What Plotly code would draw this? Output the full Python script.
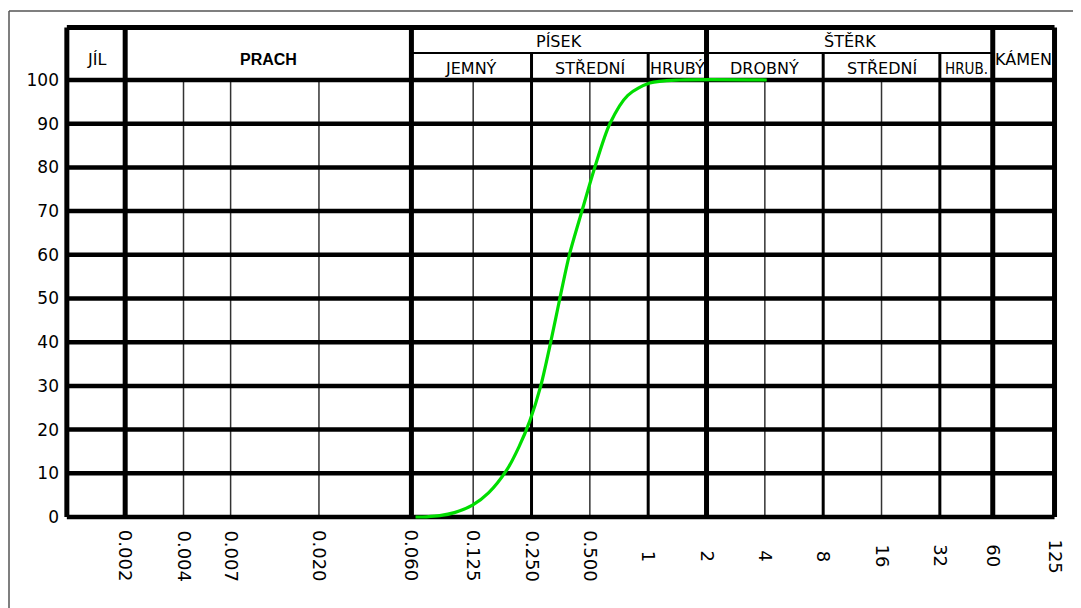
import numpy as np
import plotly.graph_objects as go

# ---------------- data ----------------
grain_size_mm = [0.063, 0.072, 0.084, 0.100, 0.124, 0.150, 0.186, 0.215, 0.245, 0.279,
                 0.314, 0.350, 0.392, 0.455, 0.530, 0.634, 0.785, 1.02, 1.46, 4.09]
passing_pct = [0, 0.05, 0.3, 1.0, 2.7, 5.5, 10.7, 16.0, 22, 30,
               40, 50, 60, 70, 80, 90, 96.5, 99.3, 100, 100]

x_tick_vals = [0.002, 0.004, 0.007, 0.020, 0.060, 0.125, 0.250, 0.500,
               1, 2, 4, 8, 16, 32, 60, 125]
x_tick_text = ["0.002", "0.004", "0.007", "0.020", "0.060", "0.125", "0.250", "0.500",
               "1", "2", "4", "8", "16", "32", "60", "125"]
pct_ticks = [0, 10, 20, 30, 40, 50, 60, 70, 80, 90, 100]

# grid structure (grain-size boundaries, mm)
major_bounds = [0.001, 0.002, 0.060, 2, 60, 125]      # full height incl. header
medium_bounds = [0.250, 1, 8, 32]                       # grid + sub-header row
thin_bounds = [0.004, 0.007, 0.020, 0.125, 0.500, 4, 16]  # grid only
x_min_mm, x_max_mm = 0.001, 125
header_mid = 106.2
header_top = 112

# header labels
full_labels = [("JÍL", 0.001, 0.002), ("PRACH", 0.002, 0.060), ("KÁMEN", 60, 125)]
top_labels = [("PÍSEK", 0.060, 2), ("ŠTĚRK", 2, 60)]
sub_labels = [("JEMNÝ", 0.060, 0.250), ("STŘEDNÍ", 0.250, 1), ("HRUBÝ", 1, 2),
              ("DROBNÝ", 2, 8), ("STŘEDNÍ", 8, 32), ("HRUB.", 32, 60)]


def vsegs(xs, y0, y1):
    X, Y = [], []
    for x in xs:
        X += [x, x, None]
        Y += [y0, y1, None]
    return X, Y


def hsegs(ys, x0, x1):
    X, Y = [], []
    for y in ys:
        X += [x0, x1, None]
        Y += [y, y, None]
    return X, Y


fig = go.Figure()


def add_lines(X, Y, width, color="black"):
    fig.add_trace(go.Scatter(x=X, y=Y, mode="lines", hoverinfo="skip",
                             line=dict(color=color, width=width), showlegend=False))


X, Y = vsegs(thin_bounds, 0, 100)
add_lines(X, Y, 1.5, "#333333")
X, Y = vsegs(medium_bounds, 0, header_mid)
add_lines(X, Y, 3)
X, Y = hsegs([header_mid], 0.060, 60)
add_lines(X, Y, 2)
X, Y = hsegs(pct_ticks, x_min_mm, x_max_mm)
add_lines(X, Y, 4.5)
X, Y = hsegs([header_top], x_min_mm, x_max_mm)
add_lines(X, Y, 5)
X, Y = vsegs(major_bounds, 0, header_top)
add_lines(X, Y, 5)

# grading curve
fig.add_trace(go.Scatter(x=grain_size_mm, y=passing_pct, mode="lines",
                         line=dict(color="#00dd00", width=3.2, shape="spline", smoothing=0.8),
                         showlegend=False))

# page body has an 8px margin -> figure is 8px smaller and shifted
W, H = 1073, 600
L, T = 54, 11
pw, ph = 997, 511
R, B = W - L - pw, H - T - ph


def py(screen_y):
    return (T + ph - (screen_y - 8)) / ph


def px(screen_x):
    return ((screen_x - 8) - L) / pw


annotations = []
cad_font = dict(family="DejaVu Sans", size=16, color="black")
for txt, a, b in full_labels:
    f = dict(family="Liberation Sans", size=16, color="black") if txt == "PRACH" else cad_font
    annotations.append(dict(x=(np.log10(a) + np.log10(b)) / 2, y=104.6, xref="x", yref="y",
                            text=("<b>%s</b>" % txt) if txt == "PRACH" else txt,
                            showarrow=False, font=f, xanchor="center", yanchor="middle"))
for txt, a, b in top_labels:
    annotations.append(dict(x=(np.log10(a) + np.log10(b)) / 2, y=108.7, xref="x", yref="y",
                            text=txt, showarrow=False, font=cad_font,
                            xanchor="center", yanchor="middle"))
for txt, a, b in sub_labels:
    f = dict(family="DejaVu Sans Condensed", size=15, color="black") if txt == "HRUB." else cad_font
    annotations.append(dict(x=(np.log10(a) + np.log10(b)) / 2, y=102.6, xref="x", yref="y",
                            text=txt, showarrow=False, font=f,
                            xanchor="center", yanchor="middle"))

label_y = py(556)
for v, t in zip(x_tick_vals, x_tick_text):
    annotations.append(dict(x=np.log10(v), y=label_y, xref="x", yref="paper", text=t,
                            textangle=90, showarrow=False,
                            font=dict(family="DejaVu Sans", size=18, color="black"),
                            xanchor="center", yanchor="middle"))

shapes = [
    dict(type="line", xref="paper", yref="paper",
         x0=px(9), x1=px(1076), y0=py(11), y1=py(11),
         line=dict(color="#555555", width=1.5)),
    dict(type="line", xref="paper", yref="paper",
         x0=px(9), x1=px(9), y0=py(11), y1=py(620),
         line=dict(color="#555555", width=1.5)),
]

fig.update_layout(
    width=W, height=H, autosize=False,
    margin=dict(l=L, r=R, t=T, b=B, pad=0),
    paper_bgcolor="white", plot_bgcolor="white",
    xaxis=dict(type="log", range=[np.log10(x_min_mm) - 0.025, 2.12],
               showgrid=False, zeroline=False, showline=False, showticklabels=False, ticks=""),
    yaxis=dict(range=[-2.975, 113.96], tickmode="array", tickvals=pct_ticks,
               ticktext=[str(v) for v in pct_ticks], showgrid=False, zeroline=False,
               showline=False, ticks="", ticklabelstandoff=2,
               tickfont=dict(family="DejaVu Sans", size=17, color="black")),
    annotations=annotations,
    shapes=shapes,
)

fig.write_html("out.html")
